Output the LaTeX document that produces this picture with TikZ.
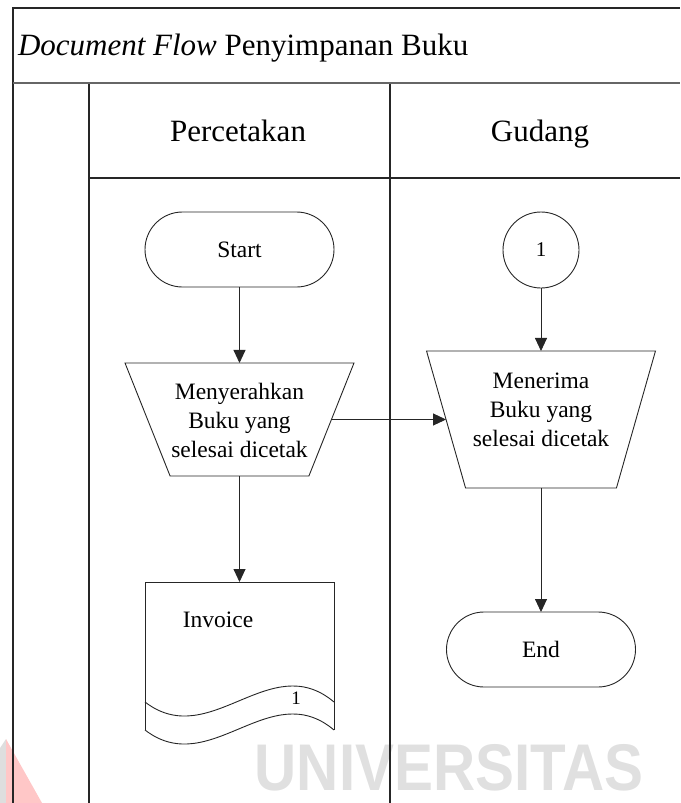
\documentclass[tikz,border=0pt]{standalone}
\usepackage{fontspec}
\setmainfont{Liberation Serif}
\newfontfamily\wmfont{Liberation Sans}
\usetikzlibrary{shapes.geometric,arrows.meta}

\begin{document}
\begin{tikzpicture}[x=1pt,y=-1pt,
  every node/.style={font=\fontsize{23.5}{29}\selectfont, inner sep=0pt, outer sep=0pt},
  frame/.style={line width=1.3pt, draw=black!85},
  shp/.style={draw=black!85, line width=0.9pt},
  terminal/.style={shp, rectangle, rounded corners=37.5pt, minimum width=189pt, minimum height=75pt},
  manual/.style={shp, trapezium, shape border rotate=180, trapezium stretches=true, minimum width=229pt, inner sep=3pt},
  conn/.style={shp, circle, minimum size=76pt},
  arr/.style={line width=0.9pt, draw=black!85, -{Triangle[length=13pt,width=12pt]}},
  headtext/.style={font=\fontsize{31}{31}\selectfont, anchor=base},
]
\path[use as bounding box] (0,0) rectangle (680,803);

% watermark
\fill[black!13] (0,748) -- (6,739) -- (6,803) -- (0,803) -- cycle;
\fill[red!22] (6,739) -- (42,803) -- (6,803) -- cycle;
\node[font=\wmfont\bfseries\fontsize{66}{66}\selectfont, text=black!12, xscale=0.885, anchor=base] (wm) at (449,790) {UNIVERSITAS};

% frame and swimlanes
\draw[frame] (13,803) -- (13,8) -- (680,8);
\draw[line width=2.6pt, black!60] (13,83) -- (680,83);
\draw[frame] (89,803) -- (89,84);
\draw[frame] (390,803) -- (390,84);
\draw[frame] (89,178) -- (680,178);

\node[headtext, anchor=base west] (title) at (18,55) {\textit{Document Flow} Penyimpanan Buku};
\node[headtext] (lane1) at (238,141) {Percetakan};
\node[headtext] (lane2) at (540,141) {Gudang};

% Percetakan
\node[terminal] (start) at (239.5,249.5) {Start};
\node[manual, minimum height=113pt, trapezium left angle=72, trapezium right angle=72] (serah) at (239.5,419.5) {};
\node[align=center] (serahtxt) at (239.5,420) {Menyerahkan\\Buku yang\\selesai dicetak};
\node[minimum width=189pt, minimum height=148pt] (doc) at (239.5,656) {};
\draw[shp] (doc.south west) -- (doc.north west) -- (doc.north east) -- (doc.south east);
\draw[shp] (145,702) .. controls (210,752) and (270,648) .. (334,702);
\draw[shp] (145,730) .. controls (210,780) and (270,676) .. (334,730);
\node (doctxt) at (218,620) {Invoice};
\node[font=\fontsize{19}{19}\selectfont] (docno) at (296,698) {1};

% Gudang
\node[conn, font=\fontsize{21}{21}\selectfont] (c1) at (541,250) {1};
\node[manual, minimum height=137pt, trapezium left angle=75.5, trapezium right angle=75.5] (terima) at (541,419.5) {};
\node[align=center] (terimatxt) at (541,410) {Menerima\\Buku yang\\selesai dicetak};
\node[terminal] (end) at (541,649.5) {End};

% connectors
\draw[arr] (start) -- (serah);
\draw[arr] (serah) -- (doc);
\draw[arr] (serah.east) -- (terima.west);
\draw[arr] (c1) -- (terima);
\draw[arr] (terima) -- (end);
\end{tikzpicture}
\end{document}
